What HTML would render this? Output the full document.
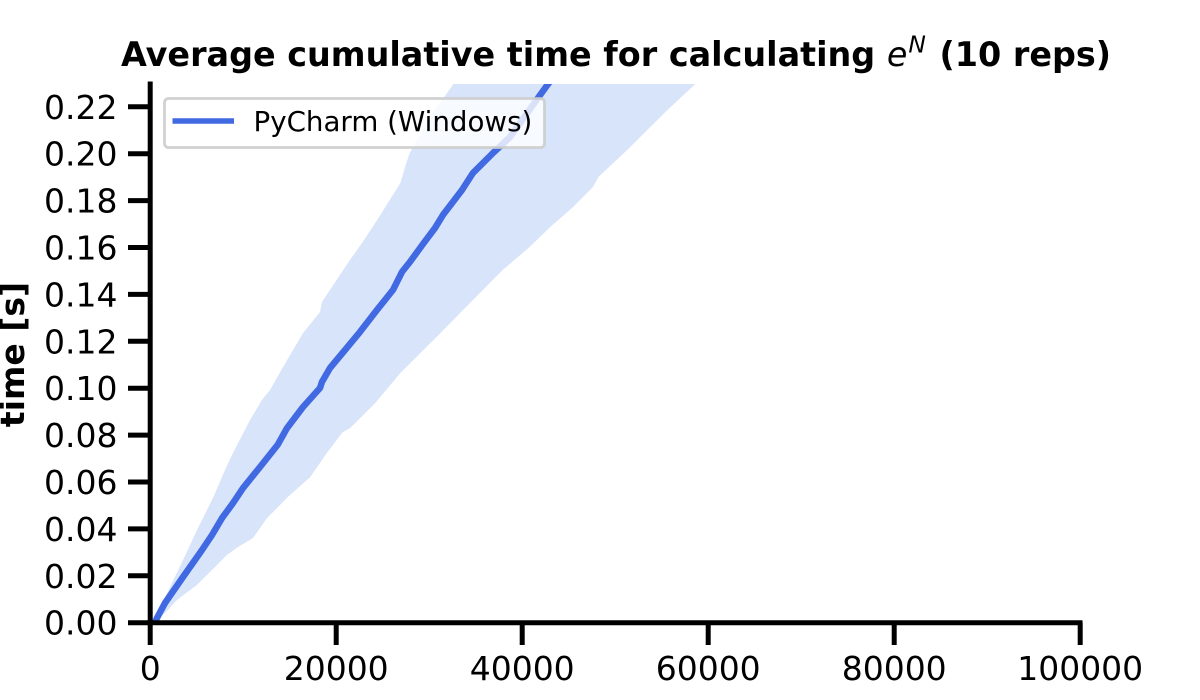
<!DOCTYPE html>
<html lang="en">
<head>
<meta charset="utf-8">
<title>Average cumulative time</title>
<style>
html,body{margin:0;padding:0;background:#fff;width:1200px;height:700px;overflow:hidden}
svg{display:block}
text{font-family:"DejaVu Sans","Liberation Sans",sans-serif;fill:#000}
</style>
</head>
<body>
<svg id="chart" xmlns="http://www.w3.org/2000/svg" width="1200" height="700" viewBox="0 0 1200 700">
  <defs>
    <clipPath id="plot-clip"><rect x="150.2" y="84" width="930" height="538.7"/></clipPath>
  </defs>
  <g id="marks" clip-path="url(#plot-clip)"></g>
  <g id="axes"></g>
  <text x="121" y="66" font-size="33.4" font-weight="700" xml:space="preserve">Average cumulative time for calculating <tspan font-weight="400" font-style="italic">e</tspan><tspan font-weight="400" font-style="italic" font-size="23.4" dy="-13.5" dx="1">N</tspan><tspan dy="13.5" dx="2"> (10 reps)</tspan></text>
  <text transform="translate(24,354.5) rotate(-90)" text-anchor="middle" font-size="33" font-weight="700">time [s]</text>
  <g>
    <rect x="164.5" y="98.5" width="380" height="49" rx="4" ry="4" fill="#fff" fill-opacity="0.8" stroke="#ccc" stroke-opacity="0.9" stroke-width="2.8"/>
    <line x1="172.5" y1="121" x2="234" y2="121" stroke="#4169e1" stroke-width="5.5"/>
    <text x="253.5" y="131" font-size="27.7">PyCharm (Windows)</text>
  </g>
</svg>
<script>
const lineN = [500, 730, 1590, 3530, 5570, 6650, 7720, 8900, 9980, 11810, 13700, 14710, 16430, 18260, 18470, 19330, 20950, 22560, 24390, 26110, 27070, 27930, 29330, 30620, 31480, 33530, 34710, 36860, 38690, 41160, 42770, 43630];
const lineT = [0, 0.002, 0.0084, 0.0195, 0.031, 0.0374, 0.0446, 0.051, 0.0574, 0.0664, 0.0758, 0.083, 0.092, 0.1001, 0.1027, 0.1086, 0.1163, 0.124, 0.1334, 0.1419, 0.1496, 0.1538, 0.1615, 0.1683, 0.1739, 0.1845, 0.1918, 0.2003, 0.2071, 0.2208, 0.2297, 0.2339];
const upperN = [200, 840, 1810, 3530, 5140, 6750, 8040, 8900, 10730, 12020, 12880, 14280, 16430, 18260, 18470, 19330, 21480, 22770, 24400, 26900, 27400, 27900, 28500, 30400, 32600, 33300];
const upperT = [0.0007, 0.005, 0.0126, 0.0267, 0.0404, 0.0532, 0.0651, 0.0724, 0.0864, 0.095, 0.0992, 0.109, 0.1235, 0.1325, 0.1368, 0.1419, 0.1547, 0.1619, 0.1717, 0.1875, 0.1943, 0.2003, 0.2046, 0.2174, 0.2297, 0.234];
const lowerN = [500, 1590, 2880, 5030, 7180, 8260, 9440, 11050, 12560, 13960, 14800, 17200, 19000, 20700, 21500, 24200, 26900, 31200, 34700, 37900, 40800, 43000, 45500, 47600, 48200, 51300, 55600, 58600, 59300];
const lowerT = [0.0007, 0.0041, 0.0097, 0.0161, 0.0246, 0.0289, 0.0323, 0.0361, 0.0446, 0.0502, 0.0536, 0.0621, 0.0724, 0.0813, 0.083, 0.0937, 0.1065, 0.1235, 0.1376, 0.1504, 0.1602, 0.1687, 0.1773, 0.1858, 0.1901, 0.2016, 0.2186, 0.2297, 0.2327];
const xTicks = [0, 20000, 40000, 60000, 80000, 100000];
const yTicks = [0, 0.02, 0.04, 0.06, 0.08, 0.10, 0.12, 0.14, 0.16, 0.18, 0.20, 0.22];

const SVG_NS = 'http://www.w3.org/2000/svg';
const xScale = function (n) { return 150.2 + n * 0.0093; };
const yScale = function (t) { return 622.7 - t * 2345; };
const marks = document.getElementById('marks');
const axes = document.getElementById('axes');

function make(tag, attrs, parent) {
  const el = document.createElementNS(SVG_NS, tag);
  Object.keys(attrs).forEach(function (k) { el.setAttribute(k, attrs[k]); });
  parent.appendChild(el);
  return el;
}

let bandPoints = [];
upperN.forEach(function (n, i) { bandPoints.push(xScale(n).toFixed(1) + ',' + yScale(upperT[i]).toFixed(1)); });
for (let i = lowerN.length - 1; i >= 0; i--) {
  bandPoints.push(xScale(lowerN[i]).toFixed(1) + ',' + yScale(lowerT[i]).toFixed(1));
}
bandPoints.unshift(xScale(0).toFixed(1) + ',' + yScale(0).toFixed(1));
const band = make('polygon', { points: bandPoints.join(' '), fill: '#d8e4fa' }, marks);



const linePoints = lineN.map(function (n, i) { return xScale(n).toFixed(1) + ',' + yScale(lineT[i]).toFixed(1); }).join(' ');
const line = make('polyline', { points: linePoints, fill: 'none', stroke: '#4169e1', 'stroke-width': 6.5, 'stroke-linejoin': 'round' }, marks);



xTicks.forEach(function (v) {
  const x = xScale(v);
  const tick = make('line', { x1: x, x2: x, y1: 622.7, y2: 645, stroke: '#000', 'stroke-width': 5 }, axes);
  
  
  const label = make('text', { x: x, y: 680, 'text-anchor': 'middle', 'font-size': 33 }, axes);
  
  
  label.textContent = String(v);
});

yTicks.forEach(function (v) {
  const y = yScale(v);
  const tick = make('line', { x1: 128, x2: 150.2, y1: y, y2: y, stroke: '#000', 'stroke-width': 5 }, axes);
  
  
  const label = make('text', { x: 117.5, y: y + 12, 'text-anchor': 'end', 'font-size': 33 }, axes);
  
  
  label.textContent = v.toFixed(2);
});

const ySpine = make('line', { x1: 150.2, x2: 150.2, y1: 81.5, y2: 625.2, stroke: '#000', 'stroke-width': 5 }, axes);


const xSpine = make('line', { x1: 147.7, x2: 1082.5, y1: 622.7, y2: 622.7, stroke: '#000', 'stroke-width': 5 }, axes);


</script>
</body>
</html>
